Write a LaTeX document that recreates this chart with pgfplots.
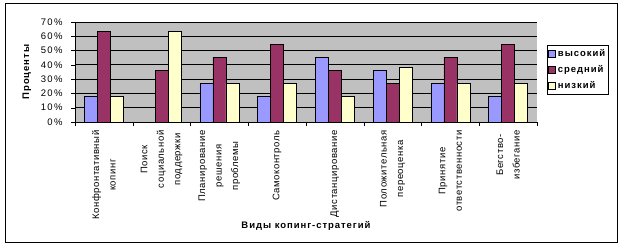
\documentclass[border=0pt]{standalone}
\usepackage{pgfplots}
\pgfplotsset{compat=1.18}
\usepackage{fontspec}
\setmainfont{Liberation Sans}
\newfontfamily\lsp[LetterSpace=14]{Liberation Sans}
\newfontfamily\lspb[LetterSpace=10]{Liberation Sans}
\newfontfamily\lspc[LetterSpace=6]{Liberation Sans}
\definecolor{cA}{HTML}{9999FF}
\definecolor{cB}{HTML}{993366}
\definecolor{cC}{HTML}{FFFFCC}
\definecolor{pa}{HTML}{C0C0C0}
\begin{document}
\begin{tikzpicture}
\useasboundingbox (0,0) rectangle (624bp,248bp);
\draw[line width=1bp] (5bp,5bp) rectangle (617bp,244bp);
\begin{axis}[
  at={(75bp,126bp)}, anchor=south west,
  scale only axis, width=462bp, height=100bp,
  ybar=0pt, bar width=13bp,
  xmin=-0.5, xmax=7.5, ymin=0, ymax=70,
  ytick={0,10,...,70},
  yticklabel={\pgfmathprintnumber{\tick}\%},
  /pgf/number format/assume math mode=true,
  yticklabel style={font=\lsp\fontsize{9.5bp}{10bp}\selectfont, xshift=-5bp},
  xtick={0,...,7},
  xticklabels={{Конфронтативный\\копинг},{Поиск\\социальной\\поддержки},{Планирование\\решения\\проблемы},{Самоконтроль},{Дистанцирование},{Положительная\\переоценка},{Принятие\\ответственности},{Бегство-\\избегание}},
  xticklabel style={rotate=90, anchor=east, align=center, font=\lspc\fontsize{9.5bp}{16.5bp}\selectfont, xshift=-1bp},
  major x tick style={draw=none},
  minor xtick={-0.5,0.5,...,7.5},
  minor x tick style={black},
  minor tick length=4bp, major tick length=4bp,
  tick align=outside,
  ytick style={black},
  ymajorgrids, major grid style={black, line width=0.8bp},
  axis background/.style={fill=pa},
  axis x line*=bottom, axis y line*=left,
  axis line style={black, line width=0.8bp},
  xlabel={Виды копинг-стратегий},
  ylabel={Проценты},
  xlabel style={at={(axis description cs:0.5,-1.035)}, anchor=center, font=\lspb\bfseries\fontsize{9.5bp}{10bp}\selectfont},
  ylabel style={at={(axis description cs:-0.104,0.5)}, anchor=center, font=\lspb\bfseries\fontsize{9.5bp}{10bp}\selectfont},
  legend style={at={(axis description cs:1.0216,0.77)}, anchor=north west, draw=black, line width=0.8bp,
     font=\lspb\bfseries\fontsize{9.5bp}{10bp}\selectfont, inner xsep=1bp, inner ysep=2bp,
     row sep=3.5bp, legend cell align=left},
  legend image code/.code={\draw[#1, line width=0.6bp] (0bp,-3.5bp) rectangle (7bp,3.5bp);},
  every axis plot/.append style={draw=black, line width=0.6bp},
]
\addplot[fill=cA] coordinates {(0,18.2) (1,0) (2,27.3) (3,18.2) (4,45.5) (5,36.4) (6,27.3) (7,18.2)};
\addplot[fill=cB] coordinates {(0,63.6) (1,36.4) (2,45.5) (3,54.5) (4,36.4) (5,27.3) (6,45.5) (7,54.5)};
\addplot[fill=cC] coordinates {(0,18.2) (1,63.6) (2,27.3) (3,27.3) (4,18.2) (5,38.0) (6,27.3) (7,27.3)};
\legend{высокий,средний,низкий}
\end{axis}
\end{tikzpicture}
\end{document}
